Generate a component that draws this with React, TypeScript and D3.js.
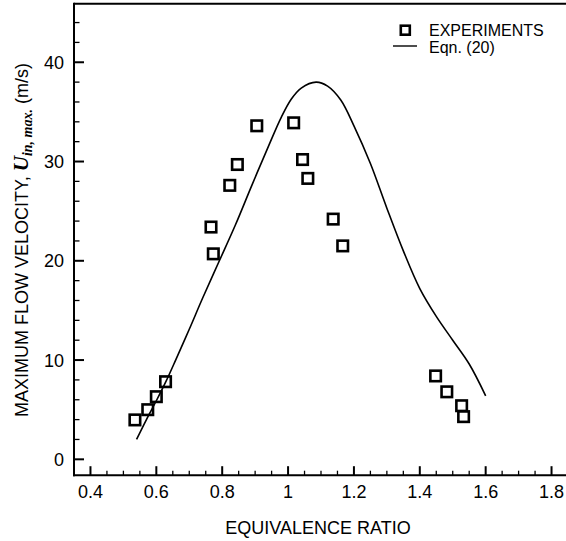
import React from "react";
import * as d3 from "d3";

const expX = [0.535, 0.574, 0.6, 0.628, 0.766, 0.773, 0.823, 0.846, 0.905, 1.017, 1.044, 1.06, 1.137, 1.166, 1.448, 1.482, 1.527, 1.533];
const expY = [3.97, 5.0, 6.31, 7.82, 23.4, 20.7, 27.6, 29.7, 33.6, 33.9, 30.2, 28.3, 24.2, 21.5, 8.4, 6.8, 5.4, 4.3];

const eqX = [0.54, 0.57, 0.6, 0.63, 0.66, 0.7, 0.74, 0.79, 0.84, 0.89, 0.94, 0.98, 1.01, 1.04, 1.085, 1.12, 1.16, 1.2, 1.25, 1.3, 1.35, 1.4, 1.45, 1.5, 1.55, 1.6];
const eqY = [2.0, 4.0, 5.9, 7.9, 10.1, 13.1, 16.2, 19.9, 23.6, 27.6, 31.5, 34.5, 36.3, 37.4, 38.0, 37.6, 36.2, 33.6, 29.8, 25.3, 21.0, 17.2, 14.4, 12.0, 9.6, 6.4];

const xMajor = [0.4, 0.6, 0.8, 1.0, 1.2, 1.4, 1.6, 1.8];
const xMajorLabels = ["0.4", "0.6", "0.8", "1", "1.2", "1.4", "1.6", "1.8"];
const yMajor = [0, 10, 20, 30, 40];
const yMajorLabels = ["0", "10", "20", "30", "40"];

const W = 566;
const H = 541;
const L = 74;
const R = 568;
const T = 3.7;
const B = 475.2;

const FONT = "'Liberation Sans', Arial, Helvetica, sans-serif";
const SERIF = "'Liberation Serif', 'Times New Roman', serif";

export default function App() {
  const x = d3.scaleLinear().domain([0.35, 1.85]).range([L, R]);
  const y = d3.scaleLinear().domain([-1.6, 45.9]).range([B, T]);

  const xMinor = d3.range(0.45, 1.85, 0.05).filter((v) => !xMajor.some((m) => Math.abs(m - v) < 1e-6));
  const yMinor = d3.range(2, 46, 2).filter((v) => v % 10 !== 0);

  const line = d3
    .line<number>()
    .x((_, i) => x(eqX[i]))
    .y((d) => y(d))
    .curve(d3.curveCatmullRom.alpha(0.5));

  const sq = 10.5;

  return (
    <svg
      width={W}
      height={H}
      style={{ position: "absolute", left: 0, top: 0, background: "#fff" }}
      fontFamily={FONT}
    >
      {/* frame */}
      <line x1={L} x2={W} y1={T} y2={T} stroke="#000" strokeWidth={2} />
      <line x1={L} x2={L} y1={T - 1} y2={B + 1} stroke="#000" strokeWidth={2} />
      <line x1={L - 1} x2={W} y1={B} y2={B} stroke="#000" strokeWidth={2} />

      {/* x ticks */}
      {xMajor.map((v, i) => (
        <g key={"xm" + i}>
          <line x1={x(v)} x2={x(v)} y1={B} y2={B - 9} stroke="#000" strokeWidth={2} />
          <text x={x(v)} y={498} textAnchor="middle" fontSize={18}>
            {xMajorLabels[i]}
          </text>
        </g>
      ))}
      {xMinor.map((v, i) => (
        <line key={"xn" + i} x1={x(v)} x2={x(v)} y1={B} y2={B - 4.5} stroke="#000" strokeWidth={1.3} />
      ))}

      {/* y ticks */}
      {yMajor.map((v, i) => (
        <g key={"ym" + i}>
          <line x1={L} x2={L + 10} y1={y(v)} y2={y(v)} stroke="#000" strokeWidth={2} />
          <text x={64} y={y(v) + 6.5} textAnchor="end" fontSize={18}>
            {yMajorLabels[i]}
          </text>
        </g>
      ))}
      {yMinor.map((v, i) => (
        <line key={"yn" + i} x1={L} x2={L + 5.5} y1={y(v)} y2={y(v)} stroke="#000" strokeWidth={1.3} />
      ))}

      {/* curve */}
      <path d={line(eqY) || ""} fill="none" stroke="#000" strokeWidth={1.6} />

      {/* experiments */}
      {expX.map((v, i) => (
        <rect
          key={"p" + i}
          x={x(v) - sq / 2}
          y={y(expY[i]) - sq / 2}
          width={sq}
          height={sq}
          fill="none"
          stroke="#000"
          strokeWidth={2.6}
        />
      ))}

      {/* legend */}
      <rect x={405.3 - 4.5} y={30.2 - 4.5} width={9} height={9} fill="none" stroke="#000" strokeWidth={2.6} />
      <text x={429} y={35.5} fontSize={16}>
        EXPERIMENTS
      </text>
      <line x1={393} x2={417} y1={46} y2={46} stroke="#000" strokeWidth={1.4} />
      <text x={429} y={53} fontSize={16}>
        Eqn. (20)
      </text>

      {/* axis titles */}
      <text x={318} y={534} textAnchor="middle" fontSize={18}>
        EQUIVALENCE RATIO
      </text>
      <text transform="translate(28,240) rotate(-90)" textAnchor="middle" fontSize={18}>
        MAXIMUM FLOW VELOCITY,{" "}
        <tspan fontFamily={SERIF} fontStyle="italic" fontWeight="bold" fontSize={21}>
          U
        </tspan>
        <tspan fontFamily={SERIF} fontStyle="italic" fontWeight="bold" fontSize={14} dy={4}>
          in, max.
        </tspan>
        <tspan dy={-4}> (m/s)</tspan>
      </text>
    </svg>
  );
}
